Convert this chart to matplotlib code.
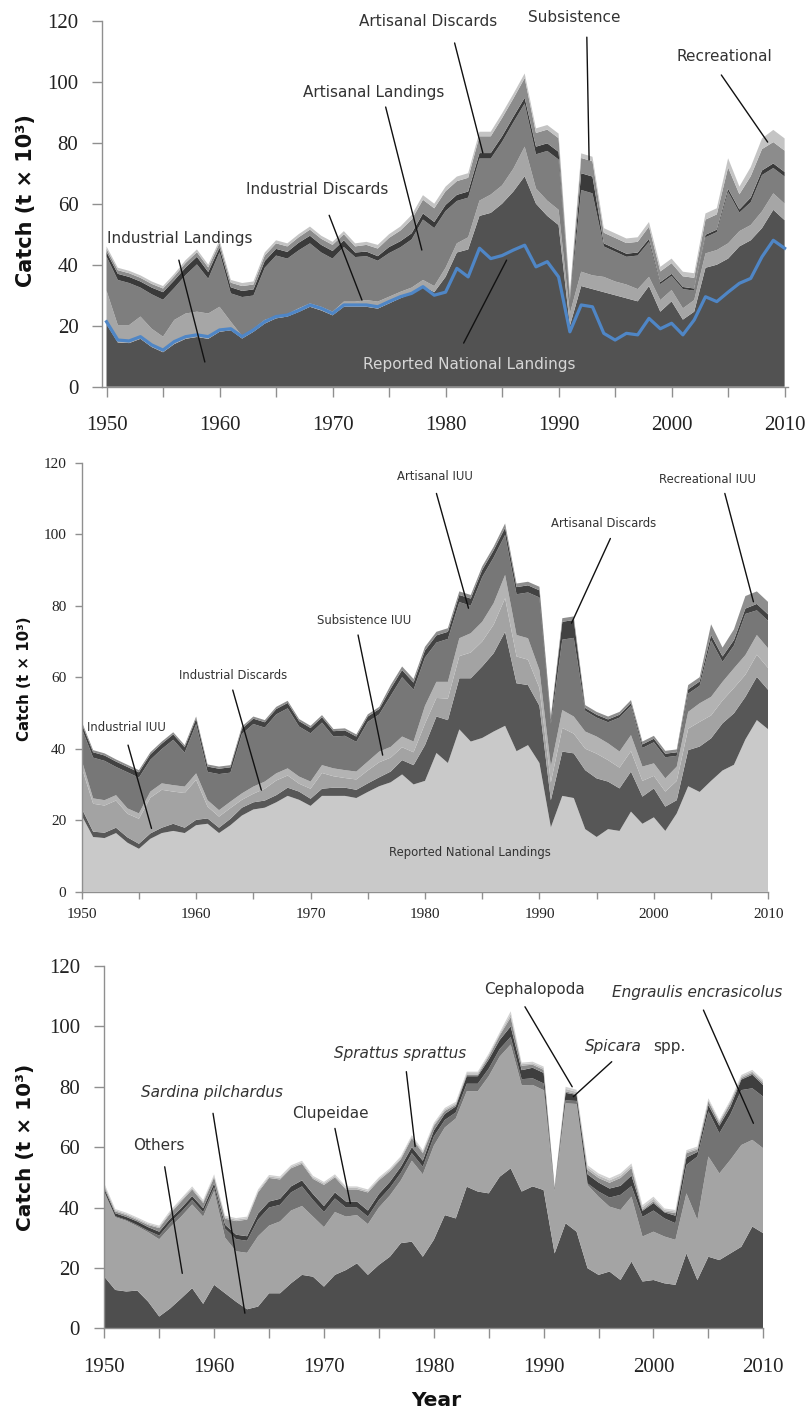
import matplotlib
matplotlib.use("Agg")
import matplotlib.pyplot as plt

years = list(range(1950, 2011))

# ---------------- Panel 1: sectors ----------------
reported = [21.3, 15.3, 15.0, 16.4, 13.7, 12.0, 14.8, 16.4, 17.0, 16.4,
            18.6, 19.0, 16.4, 18.6, 21.3, 23.0, 23.5, 25.0, 26.8, 25.7,
            24.0, 26.8, 26.8, 26.8, 26.2, 27.9, 29.5, 30.6, 32.8, 30.0,
            31.0, 38.8, 36.0, 45.4, 42.0, 43.0, 44.8, 46.4, 39.3, 41.0,
            36.0, 18.0, 26.8, 26.2, 17.5, 15.3, 17.5, 17.0, 22.4, 19.0,
            20.8, 17.0, 21.9, 29.5, 27.9, 31.0, 33.9, 35.5, 42.6, 48.0, 45.4]
industrial_landings = [20.5, 14.5, 14.3, 15.7, 13.0, 11.3, 14.0, 15.7, 16.3, 15.7,
                       18.0, 18.5, 15.8, 18.0, 20.7, 22.4, 23.0, 24.5, 26.2, 25.0,
                       23.4, 26.2, 26.2, 26.2, 25.6, 27.3, 29.0, 30.5, 33.0, 31.0,
                       36.0, 44.0, 45.0, 56.0, 57.0, 60.0, 64.0, 69.0, 60.0, 56.0,
                       53.0, 20.0, 33.0, 32.0, 31.0, 30.0, 29.0, 28.0, 33.0, 24.6,
                       28.0, 22.0, 24.6, 39.0, 40.0, 42.0, 46.0, 48.0, 52.0, 58.0, 54.6]
industrial_discards = [11.0, 5.7, 5.9, 7.3, 6.0, 5.1, 7.9, 8.3, 8.3, 8.3,
                       8.2, 2.8, 0.8, 1.0, 1.2, 0.8, 0.8, 1.2, 1.1, 1.2,
                       1.2, 1.7, 1.7, 2.2, 2.3, 2.2, 2.1, 2.0, 2.0, 2.0,
                       3.0, 3.0, 4.0, 5.0, 6.0, 6.0, 7.5, 9.7, 5.0, 5.0,
                       5.0, 4.0, 4.7, 4.5, 5.0, 4.5, 4.5, 4.0, 3.0, 3.8,
                       3.7, 3.7, 3.8, 4.7, 4.8, 5.0, 5.0, 5.0, 5.5, 5.4, 5.4]
artisanal_landings = [11.2, 14.8, 13.8, 9.5, 11.3, 12.1, 10.5, 12.6, 15.5, 11.4,
                      17.9, 9.3, 12.8, 10.9, 17.1, 19.8, 18.2, 19.0, 19.7, 17.8,
                      17.4, 17.9, 14.6, 14.4, 13.4, 14.3, 14.6, 15.8, 19.8, 19.0,
                      18.6, 13.9, 13.0, 13.8, 11.8, 14.3, 15.2, 14.2, 11.2, 16.3,
                      16.5, 3.9, 26.8, 26.9, 10.0, 9.8, 9.1, 11.0, 11.5, 5.2,
                      4.6, 6.3, 3.1, 5.3, 5.9, 16.9, 6.1, 7.5, 11.9, 8.3, 8.9]
artisanal_discards = [1.5, 2.0, 2.0, 2.0, 2.2, 2.5, 2.5, 2.5, 2.5, 2.2,
                      1.5, 2.0, 2.0, 2.0, 2.2, 2.2, 2.2, 2.5, 2.5, 2.5,
                      2.5, 2.2, 1.5, 1.5, 1.5, 2.0, 2.0, 2.0, 2.0, 2.0,
                      2.0, 2.0, 2.0, 1.8, 1.8, 1.8, 1.8, 1.8, 2.5, 2.5,
                      2.5, 0.8, 5.5, 5.5, 1.0, 1.0, 1.0, 1.0, 1.0, 0.7,
                      0.7, 0.7, 0.7, 0.8, 0.8, 1.0, 1.0, 1.5, 1.5, 1.5, 1.5]
subsistence = [1.0, 1.2, 1.2, 1.2, 1.2, 1.2, 1.3, 1.5, 1.5, 1.5,
               1.5, 1.5, 1.6, 1.6, 1.8, 1.8, 1.8, 1.8, 2.0, 2.0,
               2.0, 2.0, 2.0, 2.2, 2.5, 3.0, 3.5, 4.5, 4.5, 4.5,
               4.5, 4.5, 4.5, 5.5, 5.5, 6.0, 6.0, 6.5, 4.5, 4.5,
               4.5, 1.5, 5.0, 5.0, 3.5, 3.5, 3.5, 3.5, 4.0, 3.5,
               3.5, 3.5, 3.5, 5.0, 5.0, 7.0, 5.0, 7.0, 7.0, 7.0, 7.0]
recreational = [0.8, 0.8, 0.8, 0.8, 0.8, 0.8, 0.8, 0.9, 0.9, 0.9,
                0.9, 0.9, 1.0, 1.0, 1.0, 1.0, 1.0, 1.0, 1.0, 1.0,
                1.0, 1.0, 1.0, 1.0, 1.2, 1.2, 1.3, 1.5, 1.5, 1.5,
                1.5, 1.5, 1.5, 1.5, 1.5, 1.5, 1.5, 1.5, 1.5, 1.5,
                1.5, 0.8, 1.5, 1.5, 1.5, 1.5, 1.5, 1.5, 1.5, 1.5,
                1.5, 1.5, 1.5, 2.0, 2.0, 3.0, 2.5, 3.0, 3.5, 4.0, 4.0]

# ---------------- Panel 2: IUU components ----------------
industrial_iuu = [2.0, 1.5, 1.5, 1.5, 1.5, 1.4, 1.5, 1.5, 2.0, 1.5,
                  1.5, 1.5, 1.5, 1.8, 2.2, 2.0, 2.0, 2.0, 2.3, 2.3,
                  2.0, 2.0, 2.3, 2.3, 2.3, 2.4, 2.5, 3.0, 4.0, 5.4,
                  10.0, 10.2, 12.0, 14.3, 17.7, 20.0, 21.9, 26.3, 19.0, 16.8,
                  16.0, 7.6, 12.4, 12.5, 16.5, 16.4, 13.3, 11.9, 11.2, 7.6,
                  8.1, 6.8, 3.7, 10.1, 12.7, 11.9, 13.2, 14.4, 11.9, 12.1, 11.0]
industrial_discards2 = [11.5, 7.8, 7.6, 7.6, 6.6, 7.0, 10.0, 10.6, 9.0, 9.7,
                        11.2, 3.3, 3.1, 3.0, 2.2, 2.4, 3.3, 4.1, 3.4, 2.2,
                        2.8, 4.4, 3.2, 2.7, 2.9, 3.6, 4.2, 3.9, 3.6, 3.6,
                        6.0, 5.2, 6.0, 6.2, 7.2, 7.0, 8.0, 9.4, 7.5, 7.1,
                        5.0, 5.0, 6.6, 5.5, 6.0, 6.9, 6.0, 5.8, 5.7, 4.4,
                        3.5, 4.2, 5.4, 6.0, 6.9, 6.4, 6.4, 7.1, 6.2, 6.2, 6.1]
subsistence_iuu = [2.0, 1.5, 1.5, 1.5, 1.5, 1.5, 1.7, 1.8, 1.8, 1.8,
                   1.8, 1.8, 1.8, 1.8, 1.8, 2.0, 2.0, 2.0, 2.0, 2.0,
                   2.0, 2.2, 2.2, 2.2, 2.2, 2.5, 3.0, 3.0, 3.0, 3.0,
                   5.0, 4.5, 4.7, 5.0, 5.4, 5.5, 6.0, 6.5, 6.0, 6.0,
                   5.0, 4.4, 5.0, 4.8, 4.8, 4.8, 4.7, 4.5, 4.5, 4.0,
                   3.5, 3.7, 4.0, 4.7, 5.2, 5.2, 5.2, 5.5, 5.5, 5.5, 5.5]
artisanal_iuu = [8.9, 11.4, 11.0, 7.9, 10.1, 10.0, 8.9, 9.6, 12.7, 9.5,
                 13.8, 7.9, 10.1, 8.1, 16.6, 17.5, 15.1, 16.5, 16.8, 14.0,
                 13.5, 11.9, 8.9, 9.6, 8.3, 11.1, 10.4, 14.3, 16.6, 14.5,
                 13.5, 11.0, 12.0, 10.1, 7.7, 12.5, 12.8, 11.2, 11.4, 12.8,
                 20.3, 12.0, 19.7, 22.0, 5.8, 5.3, 5.9, 9.5, 8.2, 5.2,
                 5.9, 5.9, 3.0, 5.1, 4.9, 15.8, 5.6, 6.4, 11.5, 6.9, 7.7]
artisanal_discards2 = [1.3, 1.5, 1.5, 1.5, 1.5, 1.5, 1.5, 1.5, 1.5, 1.5,
                       1.5, 1.5, 1.5, 1.5, 1.5, 1.5, 1.5, 1.5, 1.5, 1.5,
                       1.5, 1.5, 1.5, 1.5, 1.5, 1.5, 1.5, 2.0, 2.0, 2.0,
                       2.0, 2.0, 2.0, 2.0, 2.0, 2.0, 2.0, 2.0, 2.0, 2.0,
                       2.0, 1.2, 5.0, 5.0, 0.8, 0.8, 0.8, 0.8, 0.8, 1.0,
                       1.0, 1.0, 1.0, 1.2, 1.2, 1.5, 1.5, 1.5, 1.5, 1.8, 1.8]
recreational_iuu = [0.6, 0.6, 0.6, 0.6, 0.6, 0.6, 0.6, 0.6, 0.6, 0.6,
                    0.6, 0.6, 0.6, 0.6, 0.6, 0.6, 0.6, 0.6, 0.6, 0.6,
                    0.6, 0.6, 0.6, 0.6, 0.6, 0.6, 0.6, 1.0, 1.0, 1.0,
                    1.0, 1.0, 1.0, 1.0, 1.0, 1.0, 1.0, 1.2, 1.0, 1.0,
                    1.0, 0.8, 1.0, 1.0, 0.8, 0.8, 0.8, 0.8, 0.8, 0.8,
                    0.8, 0.8, 0.8, 1.2, 1.2, 3.0, 2.5, 3.0, 3.5, 3.5, 3.5]

# ---------------- Panel 3: taxa ----------------
sardina = [17.1, 12.7, 12.2, 12.5, 8.8, 3.9, 6.6, 9.9, 13.3, 8.1,
           14.4, 11.6, 8.8, 6.3, 7.2, 11.6, 11.6, 14.9, 17.7, 17.1,
           13.8, 17.7, 19.3, 21.5, 17.7, 21.0, 23.7, 28.2, 28.7, 23.7,
           29.3, 37.5, 36.4, 46.9, 45.3, 44.7, 50.2, 53.0, 45.3, 47.0,
           45.8, 24.8, 34.8, 32.0, 19.9, 17.7, 18.8, 16.0, 22.1, 15.5,
           16.0, 14.9, 14.4, 24.8, 16.0, 23.7, 22.6, 24.8, 27.0, 33.7, 31.5]
others = [27.9, 24.1, 23.4, 21.3, 23.0, 25.6, 26.9, 27.1, 27.7, 28.9,
          31.1, 18.4, 16.7, 18.7, 23.3, 22.4, 23.8, 24.1, 22.8, 19.9,
          19.7, 20.8, 17.7, 16.0, 16.8, 19.0, 20.3, 20.8, 26.8, 27.3,
          31.2, 29.0, 33.1, 31.6, 33.2, 38.8, 39.8, 41.0, 35.2, 33.6,
          33.1, 20.7, 39.7, 42.3, 27.6, 25.9, 21.5, 23.2, 21.5, 14.9,
          16.0, 15.5, 14.9, 19.9, 19.9, 33.2, 28.7, 31.0, 33.7, 28.7, 28.1]
engraulis = [0.3, 0.3, 0.3, 0.4, 0.5, 1.2, 1.5, 1.5, 1.5, 1.5,
             1.2, 3.0, 4.0, 4.0, 5.5, 6.0, 5.5, 6.0, 6.5, 5.5,
             5.0, 4.5, 3.0, 2.5, 2.5, 2.5, 2.5, 2.5, 2.5, 2.5,
             3.0, 2.5, 2.0, 2.5, 2.5, 2.5, 2.5, 2.5, 2.0, 2.2,
             2.2, 0.3, 1.0, 1.0, 0.5, 1.7, 3.0, 5.0, 3.5, 6.5,
             7.0, 6.0, 5.5, 9.4, 21.0, 15.0, 13.3, 15.0, 18.2, 17.1, 17.1]
clupeidae = [1.0, 1.0, 1.0, 1.2, 1.2, 1.3, 1.3, 1.3, 1.3, 1.3,
             1.3, 1.3, 1.5, 1.5, 2.0, 2.0, 2.0, 2.0, 2.0, 2.0,
             2.0, 2.0, 2.0, 2.0, 2.0, 2.0, 2.0, 2.0, 2.0, 2.0,
             2.0, 2.0, 2.0, 2.5, 2.5, 3.0, 3.0, 3.5, 3.0, 3.5,
             3.5, 0.5, 2.5, 2.0, 3.0, 3.0, 3.0, 3.0, 3.5, 2.0,
             2.5, 2.0, 2.5, 2.5, 1.5, 2.0, 2.5, 2.5, 3.5, 4.5, 3.8]
sprattus = [0.7, 0.6, 0.6, 0.5, 0.7, 1.2, 1.7, 2.2, 2.2, 1.7,
            2.0, 2.0, 4.5, 5.5, 7.0, 7.8, 6.4, 6.0, 5.5, 5.0,
            7.0, 5.0, 4.0, 4.0, 6.0, 4.5, 3.5, 2.5, 3.0, 2.5,
            1.5, 1.0, 0.5, 0.5, 0.5, 1.0, 1.5, 3.0, 1.5, 1.0,
            1.0, 0.3, 0.5, 0.3, 1.5, 1.5, 1.9, 2.6, 2.5, 0.4,
            0.6, 0.3, 0.9, 1.4, 0.8, 1.3, 0.9, 1.3, 0.5, 0.6, 0.7]
spicara = [0.5, 0.4, 0.4, 0.4, 0.4, 0.4, 0.5, 0.5, 0.5, 0.5,
           0.5, 0.5, 0.5, 0.5, 0.5, 0.5, 0.5, 0.5, 0.5, 0.5,
           0.5, 0.5, 0.5, 0.5, 0.5, 0.5, 0.5, 0.5, 0.5, 0.5,
           0.5, 0.5, 0.5, 0.5, 0.5, 0.5, 0.5, 1.0, 0.5, 0.5,
           0.6, 0.2, 0.8, 0.7, 0.8, 0.8, 0.8, 0.8, 0.8, 0.8,
           0.8, 0.5, 0.5, 0.5, 0.5, 0.5, 0.5, 0.5, 0.5, 0.5, 0.5]
cephalopoda = [0.5, 0.4, 0.4, 0.4, 0.4, 0.4, 0.5, 0.5, 0.5, 0.5,
               0.5, 0.5, 0.5, 0.5, 0.5, 0.5, 0.5, 0.5, 0.5, 0.5,
               0.5, 0.5, 0.5, 0.5, 0.5, 0.5, 0.5, 0.5, 0.5, 0.5,
               0.5, 0.5, 0.5, 0.5, 0.5, 0.5, 0.5, 1.0, 0.5, 0.5,
               0.5, 0.2, 0.7, 0.7, 0.7, 0.7, 0.7, 0.7, 0.7, 0.7,
               0.7, 0.5, 0.5, 0.5, 0.5, 0.5, 0.5, 0.5, 0.5, 0.5, 0.5]

y_ticks = [0, 20, 40, 60, 80, 100, 120]
x_major = [1950, 1960, 1970, 1980, 1990, 2000, 2010]
x_minor = [1955, 1965, 1975, 1985, 1995, 2005]

SERIF = "Liberation Serif"
SANS = "DejaVu Sans"
W, H = 805, 1412

fig = plt.figure(figsize=(W / 100, H / 100), dpi=100)


def px_axes(x0, x1, ytop, ybot):
    return fig.add_axes([x0 / W, 1 - ybot / H, (x1 - x0) / W, (ybot - ytop) / H])


def style(ax, xlim, fs, ticklen, padx, pady):
    ax.set_xlim(*xlim)
    ax.set_ylim(0, 120)
    for s in ("top", "right"):
        ax.spines[s].set_visible(False)
    for s in ("left", "bottom"):
        ax.spines[s].set_color("#8f8f8f")
        ax.spines[s].set_linewidth(1.0)
    ax.set_yticks(y_ticks)
    ax.set_xticks(x_major)
    ax.set_xticks(x_minor, minor=True)
    ax.tick_params(which="both", direction="out", length=ticklen, color="#8f8f8f", width=1)
    ax.tick_params(axis="x", which="both", pad=padx)
    ax.tick_params(axis="y", pad=pady)
    for lab in ax.get_xticklabels() + ax.get_yticklabels():
        lab.set_fontfamily(SERIF)
        lab.set_fontsize(fs)
        lab.set_color("#222222")


def note(ax, text, xy_text, start, end, fs, ha="center", color="#333333", style="normal"):
    ax.text(xy_text[0], xy_text[1], text, ha=ha, va="center", fontsize=fs,
            family=SANS, color=color, style=style, clip_on=False)
    ax.annotate("", xy=end, xytext=start,
                arrowprops=dict(arrowstyle="-", color="#111111", lw=1.0,
                                shrinkA=0, shrinkB=0), annotation_clip=False)


# ---------- Panel 1 ----------
ax1 = px_axes(102, 788, 20.7, 386.7)
ax1.stackplot(years, industrial_landings, industrial_discards, artisanal_landings,
              artisanal_discards, subsistence, recreational,
              colors=["#525252", "#a6a6a6", "#7e7e7e", "#3a3a3a", "#8c8c8c", "#c4c4c4"],
              linewidth=0)
ax1.plot(years, reported, color="#4f86c6", lw=2.3)
style(ax1, (1949.6, 2010.3), 15, 7, 14, 10)
fig.text(26 / W, 1 - 201 / H, "Catch (t × 10³)", rotation=90, ha="center", va="center",
         fontsize=15, fontweight="bold", family=SANS, color="#111111")

f1 = 11
note(ax1, "Industrial Landings", (1950.0, 48.7), (1956.4, 41.5), (1958.7, 8.1), f1, ha="left")
note(ax1, "Industrial Discards", (1968.6, 64.5), (1969.7, 56.2), (1972.6, 28.4), f1)
note(ax1, "Artisanal Landings", (1973.6, 96.3), (1974.7, 91.7), (1977.9, 44.8), f1)
note(ax1, "Artisanal Discards", (1978.5, 119.6), (1980.8, 112.7), (1983.3, 76.6), f1)
note(ax1, "Subsistence", (1991.4, 120.9), (1992.5, 114.6), (1992.7, 74.3), f1)
note(ax1, "Recreational", (2004.7, 108.1), (2004.4, 102.2), (2008.5, 80.2), f1)
note(ax1, "Reported National Landings", (1982.1, 7.4), (1981.6, 14.3), (1985.4, 41.5), f1,
     color="#d6d6d6")

# ---------- Panel 2 ----------
ax2 = px_axes(81.7, 768.3, 462.7, 891.7)
ax2.stackplot(years, reported, industrial_iuu, industrial_discards2, subsistence_iuu,
              artisanal_iuu, artisanal_discards2, recreational_iuu,
              colors=["#c9c9c9", "#575757", "#a3a3a3", "#b3b3b3", "#777777", "#424242", "#8e8e8e"],
              linewidth=0)
style(ax2, (1950, 2010), 11, 5, 7, 6)
fig.text(24.5 / W, 1 - 678.5 / H, "Catch (t × 10³)", rotation=90, ha="center", va="center",
         fontsize=10.8, fontweight="bold", family=SANS, color="#111111")

f2 = 8.4
note(ax2, "Industrial IUU", (1950.5, 45.8), (1954.05, 41.0), (1956.1, 17.7), f2, ha="left")
note(ax2, "Industrial Discards", (1963.2, 60.6), (1963.2, 56.4), (1965.7, 28.4), f2)
note(ax2, "Subsistence IUU", (1974.65, 75.8), (1974.15, 71.8), (1976.3, 38.2), f2)
note(ax2, "Artisanal IUU", (1980.9, 116.0), (1981.0, 111.4), (1983.8, 79.3), f2)
note(ax2, "Artisanal Discards", (1995.6, 102.9), (1996.2, 98.8), (1992.8, 75.1), f2)
note(ax2, "Recreational IUU", (2004.7, 115.4), (2006.2, 111.4), (2008.7, 81.1), f2)
ax2.text(1983.9, 11.1, "Reported National Landings", ha="center", va="center",
         fontsize=f2, family=SANS, color="#333333")

# ---------- Panel 3 ----------
ax3 = px_axes(104.3, 763.3, 966.0, 1328.3)
ax3.stackplot(years, sardina, others, engraulis, clupeidae, sprattus, spicara, cephalopoda,
              colors=["#4e4e4e", "#a4a4a4", "#737373", "#3e3e3e", "#8b8b8b", "#b9b9b9", "#d2d2d2"],
              linewidth=0)
style(ax3, (1950, 2010), 15, 7.5, 14, 10)
fig.text(26 / W, 1 - 1147.5 / H, "Catch (t × 10³)", rotation=90, ha="center", va="center",
         fontsize=14.5, fontweight="bold", family=SANS, color="#111111")
fig.text(436 / W, 1 - 1401 / H, "Year", ha="center", va="center",
         fontsize=14.6, fontweight="bold", family=SANS, color="#111111")

f3 = 11
note(ax3, "Others", (1955.0, 60.7), (1955.5, 53.5), (1957.1, 18.2), f3)
note(ax3, "Sardina pilchardus", (1959.8, 78.0), (1959.9, 71.2), (1962.8, 5.0), f3, style="italic")
note(ax3, "Clupeidae", (1970.6, 71.2), (1971.0, 66.2), (1972.4, 41.4), f3)
note(ax3, "Sprattus sprattus", (1976.9, 91.1), (1977.5, 85.0), (1978.3, 60.2), f3, style="italic")
note(ax3, "Cephalopoda", (1989.15, 112.3), (1988.3, 106.5), (1992.6, 80.0), f3)
note(ax3, "Spicara", (1993.8, 93.3), (1996.2, 88.3), (1992.7, 76.7), f3, ha="left", style="italic")
ax3.text(2000.0, 93.3, "spp.", ha="left", va="center", fontsize=f3, family=SANS, color="#333333")
note(ax3, "Engraulis encrasicolus", (2004.0, 111.2), (2004.55, 105.4), (2009.1, 67.9), f3,
     style="italic")

fig.savefig("out.png", dpi=100)
